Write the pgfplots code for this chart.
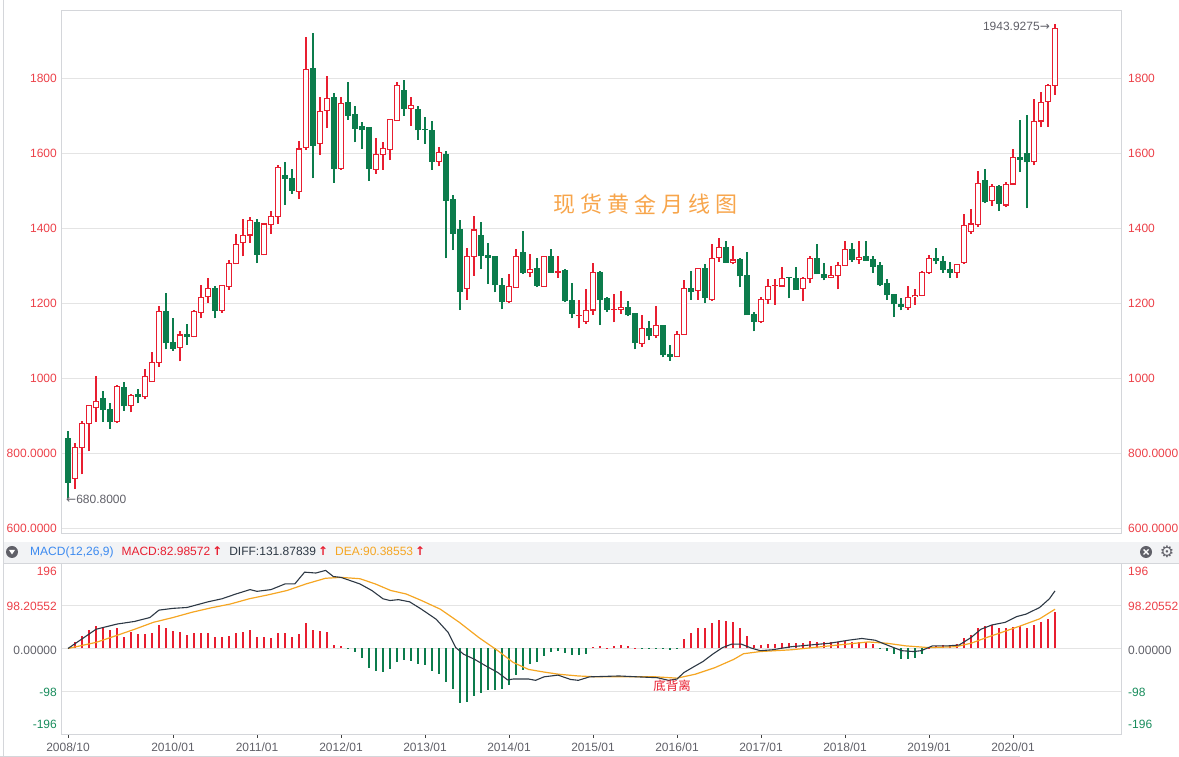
\documentclass[border=0pt]{standalone}
\usepackage{fontspec}
\setmainfont{Liberation Sans}
\newfontfamily\cjk{Noto Sans CJK SC}
\newfontfamily\djv{DejaVu Sans}
\usepackage{pgfplots}
\pgfplotsset{compat=1.18}
\usepackage{pgfplotstable}

\definecolor{cred}{RGB}{232,30,48}
\definecolor{cgreen}{RGB}{12,124,76}
\definecolor{lblred}{RGB}{236,64,72}
\definecolor{lblgreen}{RGB}{24,140,92}
\definecolor{gridc}{RGB}{228,228,228}
\definecolor{framec}{RGB}{212,214,218}
\definecolor{txtgray}{RGB}{96,96,104}
\definecolor{diffc}{RGB}{45,56,68}
\definecolor{deac}{RGB}{245,166,35}
\definecolor{titlec}{RGB}{247,165,75}
\definecolor{macdblue}{RGB}{60,138,240}
\definecolor{hdrbg}{RGB}{242,243,245}

% monthly candles, 2008/10 .. 2020/07 (i = month index)
\pgfplotstableread{
i o h l c
0 840 858 681 722
1 732 828 704 814
2 814 886 743 880
3 878 929 805 927
4 920 1005 883 938
5 946 966 883 915
6 917 934 865 883
7 883 980 881 978
8 975 990 913 926
9 926 957 908 954
10 955 970 932 949
11 950 1024 943 1004
12 991 1070 989 1042
13 1042 1191 1030 1177
14 1177 1226 1076 1094
15 1094 1159 1073 1079
16 1082 1125 1044 1115
17 1117 1143 1088 1110
18 1111 1180 1108 1177
19 1175 1248 1159 1216
20 1216 1266 1200 1238
21 1239 1244 1159 1180
22 1180 1248 1174 1246
23 1244 1315 1235 1305
24 1305 1385 1303 1356
25 1361 1423 1324 1381
26 1381 1429 1361 1420
27 1416 1425 1306 1330
28 1328 1413 1327 1411
29 1409 1446 1384 1431
30 1431 1567 1411 1561
31 1540 1576 1462 1532
32 1532 1556 1491 1500
33 1497 1631 1477 1611
34 1615 1910 1608 1823
35 1826 1921 1532 1620
36 1626 1750 1595 1710
37 1713 1804 1666 1746
38 1748 1759 1521 1559
39 1559 1748 1555 1732
40 1736 1790 1688 1700
41 1704 1725 1628 1665
42 1672 1682 1611 1661
43 1668 1668 1526 1558
44 1556 1639 1544 1596
45 1596 1630 1555 1613
46 1610 1690 1581 1690
47 1686 1788 1686 1781
48 1766 1795 1699 1718
49 1718 1750 1672 1727
50 1715 1725 1635 1661
51 1664 1697 1624 1663
52 1661 1684 1555 1577
53 1577 1617 1564 1602
54 1595 1604 1319 1473
55 1475 1488 1341 1386
56 1395 1421 1181 1230
57 1239 1346 1208 1325
58 1324 1432 1272 1395
59 1379 1417 1290 1325
60 1328 1361 1251 1322
61 1324 1324 1228 1248
62 1248 1266 1183 1204
63 1204 1277 1199 1245
64 1242 1343 1240 1325
65 1336 1393 1277 1281
66 1281 1331 1268 1290
67 1292 1319 1242 1247
68 1244 1325 1244 1325
69 1325 1343 1281 1281
70 1281 1324 1266 1284
71 1286 1290 1202 1206
72 1208 1254 1159 1172
73 1166 1208 1132 1167
74 1150 1236 1144 1181
75 1181 1306 1168 1281
76 1281 1286 1141 1208
77 1212 1215 1176 1183
78 1183 1224 1148 1184
79 1183 1233 1171 1188
80 1188 1206 1164 1168
81 1171 1171 1076 1094
82 1092 1168 1082 1132
83 1132 1153 1100 1112
84 1114 1192 1106 1141
85 1139 1139 1055 1061
86 1064 1088 1046 1057
87 1057 1126 1057 1117
88 1116 1260 1116 1239
89 1239 1284 1208 1230
90 1233 1292 1208 1292
91 1292 1304 1201 1215
92 1208 1357 1206 1319
93 1322 1372 1310 1348
94 1348 1364 1306 1308
95 1308 1352 1303 1315
96 1315 1319 1242 1272
97 1274 1337 1168 1168
98 1170 1177 1124 1150
99 1150 1217 1146 1210
100 1210 1263 1197 1245
101 1247 1263 1195 1248
102 1245 1297 1245 1266
103 1268.5 1268 1212 1267.5
104 1266 1295 1236 1236
105 1239 1268 1204 1266
106 1266 1324 1252 1319
107 1319 1357 1277 1277
108 1277 1306 1260 1268
109 1268 1299 1266 1274
110 1272 1308 1236 1300
111 1300 1366 1300 1343
112 1343 1361 1310 1315
113 1315 1364 1304 1322
114 1325 1366 1313 1313
115 1315 1324 1281 1297
116 1299 1308 1245 1248
117 1252 1263 1208 1221
118 1224 1224 1162 1197
119 1197 1212 1180 1190
120 1188 1244 1182 1216
121 1216 1237 1195 1221
122 1220 1284 1218 1281
123 1281 1327 1278 1319
124 1319 1347 1303 1312
125 1310 1324 1281 1290
126 1290 1308 1266 1281
127 1281 1305 1266 1303
128 1308 1437 1305 1407
129 1391 1450 1384 1411
130 1409 1553 1402 1519
131 1527 1556 1466 1470
132 1472 1517 1459 1512
133 1512 1514 1446 1466
134 1461 1523 1455 1517
135 1517 1611 1517 1588
136 1588 1688 1549 1583
137 1600 1700 1452 1576
138 1576 1744 1567 1685
139 1685 1762 1668 1734
140 1737 1783 1670 1780
141 1780 1944 1755 1933
}\candles

% MACD histogram
\pgfplotstableread{
i v
1 14
2 28
3 42
4 51
5 48
6 42
7 47
8 27
9 37
10 33
11 33
12 35
13 54
14 48
15 39
16 38
17 31
18 35
19 35
20 35
21 27
22 27
23 29
24 35
25 37
26 42
27 27
28 27
29 24
30 35
31 35
32 27
33 33
34 58
35 42
36 39
37 37
38 8
39 6
40 -2
41 -9
42 -21
43 -44
44 -51
45 -55
46 -48
47 -30
48 -27
49 -28
50 -35
51 -38
52 -51
53 -58
54 -76
55 -94
56 -124
57 -123
58 -109
59 -101
60 -96
61 -96
62 -94
63 -84
64 -61
65 -50
66 -36
67 -32
68 -17
69 -9
70 -5
71 -11
72 -15
73 -15
74 -13
75 4
76 6
77 2
78 5
79 8
80 5
81 1
82 -1
83 -1
84 -1
85 -2
86 -4
87 -1
88 21
89 35
90 48
91 48
92 58
93 66
94 62
95 60
96 48
97 28
98 8
99 8
100 10
101 10
102 12
103 13
104 12
105 12
106 18
107 16
108 14
109 14
110 14
111 18
112 16
113 16
114 16
115 10
116 -2
117 -5
118 -12
119 -25
120 -25
121 -22
122 -12
123 2
124 6
125 8
126 6
127 10
128 24
129 31
130 48
131 52
132 54
133 47
134 47
135 50
136 52
137 48
138 54
139 60
140 68
141 83
}\histo

\pgfplotstableread{
i v
0 0
3 33
4 44
5 48
7 56
9.5 62
11.7 71
13 88
15 92
17 94
20 107
22 114
24 125
26 135
27 131
29 135
31 148
32.4 148
33.8 175
35.4 173
36.8 179
37.9 165
39 163
41.7 148
43.4 133
45 114
46 110
47.2 112
48.8 107
50.5 90
52.6 67
54.3 37
55.4 2
56.5 -13
58.1 -25
59.7 -40
61.4 -55
62.8 -72
63.6 -70
65.8 -70
66.8 -73
68 -65
70 -61
71.8 -71
72.9 -73
74.5 -65
78.7 -63
81.4 -65
84.2 -67
85.8 -73
87 -70
88 -55
89.6 -40
90.7 -30
92.1 -13
93.5 2
94.8 10
96.2 10
97.6 1
98.9 -5
100.6 -3
103.3 4
106 8
108.8 12
111.5 19
113.4 23
115.3 19
117 8
119.1 -5
120.8 -7
121.9 -5
123.5 6
125.7 6
127.3 8
129 25
130.4 44
132 54
133.9 60
135.5 73
136.9 79
138.8 94
140.2 114
141 132
}\diff

\pgfplotstableread{
i v
0 0
4 14
6.8 29
9.5 44
12.2 60
15 71
17.7 83
20.4 93
23.2 102
25.9 114
28.6 123
31.3 133
34 148
36.8 161
39 163
41.7 160
43.9 148
46.1 133
48.3 125
50.5 110
53.2 90
55.9 60
58.7 25
61.4 -5
63.6 -32
65.8 -48
68 -54
70.1 -59
72.9 -63
75.6 -65
84 -65
87 -68
89.6 -59
92.4 -44
95.1 -25
96.5 -12
98.9 -7
103.3 -3
108.8 6
114.3 15
117 12
119.7 6
123 2
126.8 4
129 12
131.2 25
133.4 37
136.1 52
138.8 68
141 90
}\dea

\pgfplotsset{
  candle/.style 2 args={draw=none, mark=none,
    error bars/.cd, y dir=plus, y explicit, error mark=none,
    error bar style={draw=#1, line width=#2}},
}

\begin{document}
\begin{tikzpicture}[x=1pt,y=1pt,font=\fontsize{12}{14}\selectfont]
% header band of the MACD pane
\fill[hdrbg] (3,194) rectangle (1179,215);
\draw[framec] (3,194) -- (1179,194);
\draw[framec] (3,0) -- (3,757);

\begin{axis}[at={(61pt,224pt)}, anchor=south west, scale only axis,
  width=1060pt, height=523pt,
  xmin=-1, xmax=150.43, ymin=586.7, ymax=1981.3,
  axis line style={draw=framec},
  xtick=\empty, ytick={600,800,...,1800}, yticklabels={},
  tick style={draw=none}, ymajorgrids, grid style={gridc, line width=0.8pt}]
% rising months: hollow red
\addplot[restrict expr to domain={\thisrow{c}-\thisrow{o}}{0:5000}, candle={cred}{1.2pt}]
  table[x=i, y=l, y error expr={\thisrow{h}-\thisrow{l}}] {\candles};
\addplot[restrict expr to domain={\thisrow{c}-\thisrow{o}}{0:5000}, candle={cred}{5.6pt}]
  table[x=i, y expr={\thisrow{o}-1.2}, y error expr={\thisrow{c}-\thisrow{o}+2.4}] {\candles};
\addplot[restrict expr to domain={\thisrow{c}-\thisrow{o}}{0:5000}, candle={white}{3.4pt}]
  table[x=i, y expr={\thisrow{o}+1.8}, y error expr={max(\thisrow{c}-\thisrow{o}-3.6,0)}] {\candles};
% falling months: filled green
\addplot[restrict expr to domain={\thisrow{c}-\thisrow{o}}{-5000:-0.01}, candle={cgreen}{1.2pt}]
  table[x=i, y=l, y error expr={\thisrow{h}-\thisrow{l}}] {\candles};
\addplot[restrict expr to domain={\thisrow{c}-\thisrow{o}}{-5000:-0.01}, candle={cgreen}{5.6pt}]
  table[x=i, y expr={\thisrow{c}-1}, y error expr={\thisrow{o}-\thisrow{c}+2}] {\candles};
\end{axis}

\begin{axis}[at={(61pt,23pt)}, anchor=south west, scale only axis,
  width=1060pt, height=171pt,
  xmin=-1, xmax=150.43, ymin=-196, ymax=196,
  axis line style={draw=none},
  xtick={0,15,27,39,51,63,75,87,99,111,123,135}, xticklabels={},
  xtick pos=bottom, tick align=outside, major tick length=4pt,
  xtick style={draw=black!75, line width=0.9pt},
  ytick={-98,0,98.20552}, yticklabels={}, ytick style={draw=none},
  ymajorgrids, grid style={gridc, line width=0.8pt}]
\addplot[ycomb, draw=cred, line width=1.3pt, restrict y to domain=0:1000] table[x=i,y=v] {\histo};
\addplot[ycomb, draw=cgreen, line width=1.3pt, restrict y to domain=-1000:-0.001] table[x=i,y=v] {\histo};
\addplot[draw=deac, line width=1.2pt] table[x=i,y=v] {\dea};
\addplot[draw=diffc, line width=1.1pt] table[x=i,y=v] {\diff};
\end{axis}
\draw[framec, line width=0.8pt] (61,194) -- (61,23) -- (1121,23) -- (1121,194);
\draw[framec] (0,1) -- (1020,1);

% price labels
\foreach \y/\t in {229/600.0000,304/800.0000,379/1000,454/1200,529/1400,604/1600,679/1800}{
  \node[anchor=east, text=lblred, inner sep=0] at (57,\y) {\t};
  \node[anchor=west, text=lblred, inner sep=0] at (1128,\y) {\t};
}
% MACD labels
\foreach \y/\t/\c in {186/196/lblred,151/98.20552/lblred,107/0.00000/txtgray,65/-98/lblgreen,33/-196/lblgreen}{
  \node[anchor=east, text=\c, inner sep=0] at (57,\y) {\t};
  \node[anchor=west, text=\c, inner sep=0] at (1128,\y) {\t};
}
% date labels
\foreach \x/\t in {68/2008\slash10,173/2010\slash01,257/2011\slash01,341/2012\slash01,425/2013\slash01,509/2014\slash01,593/2015\slash01,677/2016\slash01,761/2017\slash01,845/2018\slash01,929/2019\slash01,1013/2020\slash01}{
  \node[text=txtgray, inner sep=0] at (\x,9.5) {\t};
}

% annotations
\node[anchor=west, text=txtgray, inner sep=0] at (66,258) {{\djv←}680.8000};
\node[anchor=east, text=txtgray, inner sep=0] at (1050,731) {1943.9275{\djv→}};
\foreach \ch [count=\k from 0] in {现,货,黄,金,月,线,图}{
  \node[text=titlec, inner sep=0] at ({564+27*\k},552.5) {\cjk\fontsize{22}{22}\selectfont\ch};
}
\node[text=cred, inner sep=0] at (672,71) {\cjk\fontsize{12.5}{13}\selectfont 底背离};

% MACD header
\fill[txtgray] (12,205) circle (6);
\fill[white] (9,207) -- (15,207) -- (12,202.5) -- cycle;
\node[anchor=west, inner sep=0] at (30,205) {%
  \textcolor{macdblue}{MACD(12,26,9)}\hspace{8pt}%
  \textcolor{cred}{MACD:82.98572\,{\djv\bfseries ↑}}\hspace{7pt}%
  \textcolor{diffc}{DIFF:131.87839}\,\textcolor{cred}{\djv\bfseries ↑}\hspace{7pt}%
  \textcolor{deac}{DEA:90.38553}\,\textcolor{cred}{\djv\bfseries ↑}};
\fill[txtgray] (1146,205) circle (6);
\draw[white, line width=1.4pt] (1143.5,202.5) -- (1148.5,207.5) (1143.5,207.5) -- (1148.5,202.5);
\node[text=txtgray, inner sep=0] at (1167,205.5) {\djv\fontsize{16}{16}\selectfont ⚙};

\pgfresetboundingbox
\path[use as bounding box] (0,0) rectangle (1179,757);
\end{tikzpicture}
\end{document}
